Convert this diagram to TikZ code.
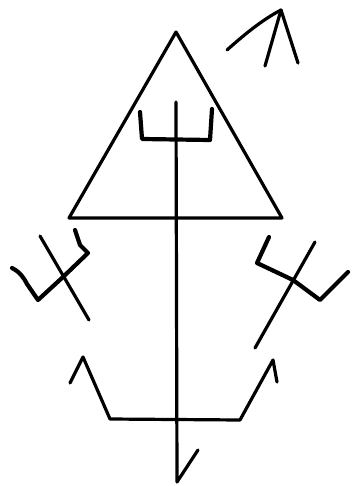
\documentclass[tikz,border=0pt]{standalone}
\begin{document}
\begin{tikzpicture}[x=1pt,y=-1pt,
  ink/.style={line width=3.2pt,line cap=round,line join=round,black},
  thick ink/.style={line width=4.2pt,line cap=round,line join=round,black}]
\useasboundingbox[fill=white] (0,0) rectangle (351,486);
% triangle
\draw[ink] (176,32) -- (282,218) -- (69,218) -- cycle;
% central staff
\draw[ink] (176,102) -- (177,482) -- (198,450);
% inner trident
\draw[thick ink] (140,112) -- (142,139) -- (210,140) -- (212,109);
% top right arrow
\draw[ink] (227,50) .. controls (245,34) and (262,20) .. (281,10);
\draw[ink] (265,66) -- (281,10) -- (298,63);
% left trident
\draw[ink] (40,236) -- (89,320);
\draw[thick ink] (12,268) .. controls (20,272) and (24,278) .. (27,284) -- (38,300) -- (63,277) -- (88,253) -- (80,245) -- (75,230);
% right trident
\draw[ink] (315,242) -- (255,348);
\draw[thick ink] (269,237) -- (257,263) -- (293,280) -- (320,300) -- (348,272);
% bottom bar
\draw[ink] (70,383) -- (83,357) -- (110,419) -- (240,420) -- (273,360) -- (277,382);
\end{tikzpicture}
\end{document}
